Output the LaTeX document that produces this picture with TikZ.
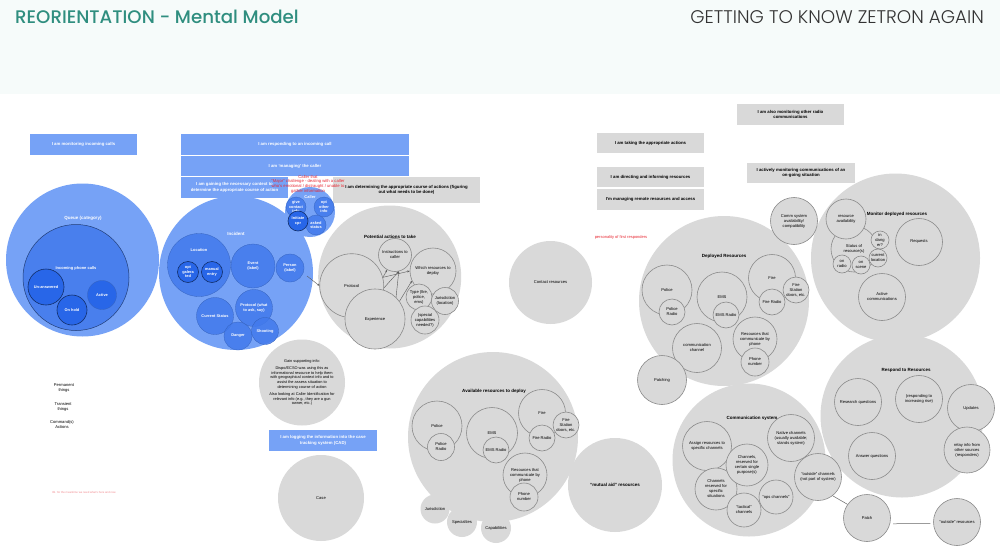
\documentclass[tikz,border=0pt]{standalone}
\usepackage{xcolor}
\usepackage{fontspec}
\setmainfont{Liberation Sans}
\newfontfamily\titlefont{Poppins Medium}
\newfontfamily\thinfont{Poppins Light}
\usetikzlibrary{positioning,arrows.meta}
\definecolor{headbg}{RGB}{246,251,250}
\definecolor{titleteal}{RGB}{47,142,127}
\definecolor{softgray}{RGB}{217,217,217}
\definecolor{ringgray}{RGB}{138,138,138}
\definecolor{softblue}{RGB}{118,162,246}
\definecolor{midblue}{RGB}{66,122,236}
\definecolor{deepblue}{RGB}{40,102,232}
\definecolor{alertred}{RGB}{232,40,50}
\tikzset{
    x=1pt, y=-1pt,
    plaintext/.style={font=\fontsize{4.1}{5}\selectfont, align=center, inner sep=0pt},
    hdg/.style={font=\bfseries\fontsize{4.5}{5.5}\selectfont, align=center, inner sep=0pt},
    bighalo/.style={circle, fill=softgray, inner sep=0pt, align=center, font=\fontsize{4.1}{5}\selectfont},
    ringed/.style={circle, fill=softgray, draw=ringgray, line width=0.6pt, inner sep=0pt, align=center, font=\fontsize{4.1}{5}\selectfont},
    bluehalo/.style={circle, fill=softblue, inner sep=0pt, align=center, text=white, font=\bfseries\fontsize{4.1}{5}\selectfont},
    bluering/.style={circle, fill=midblue, fill opacity=0.85, text opacity=1, draw=midblue!80!black, line width=0.3pt, inner sep=0pt, align=center, text=white, font=\bfseries\fontsize{3.9}{4.6}\selectfont},
    bluedeep/.style={circle, fill=deepblue, draw=deepblue!45!black, line width=0.6pt, inner sep=0pt, align=center, text=white, font=\bfseries\fontsize{3.9}{4.6}\selectfont},
    graybox/.style={fill=softgray, inner sep=0pt, align=center, font=\bfseries\fontsize{4.3}{5.6}\selectfont},
    bluebox/.style={fill=softblue, inner sep=0pt, align=center, text=white, font=\bfseries\fontsize{4.3}{5.6}\selectfont},
    arr/.style={-{Stealth[length=2.5pt,width=2pt]}, draw=black!65, line width=0.4pt},
    link/.style={draw=black!60, line width=0.5pt}
}
\begin{document}
\begin{tikzpicture}
\useasboundingbox (0,0) rectangle (1000,551);
\fill[white] (0,0) rectangle (1000,551);
\fill[headbg] (0,0) rectangle (1000,94);

% Header
\node[anchor=west, inner sep=0pt, text=titleteal, font=\titlefont\fontsize{18.2}{20}\selectfont] (title) at (15,17) {REORIENTATION - Mental Model};
\node[anchor=east, inner sep=0pt, text=black!80, font=\thinfont\fontsize{18.3}{20}\selectfont] (subtitle) at (984,17) {GETTING TO KNOW ZETRON AGAIN};

% Task boxes
\node[bluebox, minimum width=107pt, minimum height=21pt] (bxcalls) at (83.5,144.5) {I am monitoring incoming calls};
\node[bluebox, minimum width=228pt, minimum height=21pt] (bxrespond) at (295,144.5) {I am responding to an incoming call};
\node[bluebox, minimum width=228pt, minimum height=20pt] (bxmanage) at (295,166) {I am `managing' the caller};
\node[bluebox, minimum width=107pt, minimum height=21pt] (bxgain) at (234.5,187.5) {I am gaining the necessary context to\\determine the appropriate course of action};
\node[graybox, minimum width=147pt, minimum height=26pt] (bxdetermine) at (406.5,190) {I am determining the appropriate course of actions (figuring\\out what needs to be done)};
\node[bluebox, minimum width=108pt, minimum height=21pt] (bxlog) at (323,440.5) {I am logging the information into the case\\tracking system (CAD)};
\node[graybox, minimum width=107pt, minimum height=20pt] (bxtake) at (650.5,143) {I am taking the appropriate actions};
\node[graybox, minimum width=107pt, minimum height=20pt] (bxdirect) at (650.5,177) {I am directing and informing resources};
\node[graybox, minimum width=107pt, minimum height=21pt] (bxremote) at (650.5,199.5) {I'm managing remote resources and access};
\node[graybox, minimum width=107pt, minimum height=21pt] (bxother) at (790.5,114.5) {I am also monitoring other radio\\communications};
\node[graybox, minimum width=108pt, minimum height=20pt] (bxactive) at (801,173) {I actively monitoring communications of an\\on-going situation};

% Big circles
\foreach \nm/\x/\y/\dia/\label in {
    potential/389.7/277/143/{},
    gainc/302/382.5/86/{},
    casec/321/498/86/{Case},
    contact/550.5/282.5/83/{Contact resources},
    avail/493/437/170/{},
    jurisc/435/509/29/{Jurisdiction},
    specc/462/522/30/{Specialties},
    capac/496/528/30/{Capabilities},
    deployed/724/301/170/{},
    commsys/749/460/153/{},
    monitorc/895.5/258/169/{},
    respondc/902/416/163/{}
} {
    \node[bighalo, minimum size=\dia pt] (\nm) at (\x,\y) {\label};
}
\node[bighalo, minimum size=94pt, font=\bfseries\fontsize{4.5}{5}\selectfont] (mutualc) at (615,485) {``mutual aid'' resources};

% Blue circles
\node[bluehalo, minimum size=153pt] (queue) at (82.5,260) {};
\node[bluering, minimum size=106pt, draw=midblue!50!black, line width=0.5pt] (incoming) at (76,277.5) {};
\node[bluehalo, minimum size=154pt] (incident) at (236,273) {};
\node[bluehalo, minimum size=50pt] (caller) at (310,212) {};
\node[bluering, minimum size=29pt, fill=deepblue, fill opacity=1] (activec) at (102,295) {Active};
\node[bluering, minimum size=63pt] (location) at (199,265) {};
\node[bluering, minimum size=44pt] (eventc) at (253,266) {Event\\(label)};
\node[bluering, minimum size=28pt] (personc) at (290,268) {Person\\(label)};
\node[bluering, minimum size=37pt] (statusc) at (215,316) {Current Status};
\node[bluering, minimum size=37pt] (protocolc) at (254,308) {Protocol (what\\to ask, say)};
\node[bluering, minimum size=28pt] (dangerc) at (238,336) {Danger};
\node[bluering, minimum size=27pt] (shootc) at (265,331) {Shooting};
\node[bluering, minimum size=20pt] (givec) at (296,207) {give\\contact\\info};
\node[bluering, minimum size=20pt] (otherc) at (324,207) {opt\\other\\info};
\node[bluering, minimum size=20pt] (askedc) at (316,225) {asked\\status};
\node[bluedeep, minimum size=36pt] (unanswered) at (46,287) {Un-answered};
\node[bluedeep, minimum size=30pt] (onhold) at (72,310) {On hold};
\node[bluedeep, minimum size=21pt] (optgal) at (188,272) {opt\\galera\\ted};
\node[bluedeep, minimum size=21pt] (manualc) at (212,272) {manual\\entry};
\node[bluedeep, minimum size=20pt] (initc) at (298,221) {Initiate\\cpr};

% Ringed circles
\node[ringed, minimum size=64pt] (protocolg) at (351.7,285.7) {Protocol};
\node[ringed, minimum size=33pt] (instr) at (395,255) {Instructions to\\caller};
\node[ringed, minimum size=46pt] (which) at (433,271) {Which resources to\\deploy};
\node[ringed, minimum size=60pt] (experience) at (375,319) {Experience};
\node[ringed, minimum size=26pt] (typec) at (419,297) {Type (fire,\\police,\\ems)};
\node[ringed, minimum size=27pt] (jurloc) at (445,301) {Jurisdiction\\(location)};
\node[ringed, minimum size=28pt] (speccap) at (425,320) {(special\\capabilities\\needed?)};

\node[ringed, minimum size=50pt] (apolice) at (437,426) {Police};
\node[ringed, minimum size=27pt] (apradio) at (441,447) {Police\\Radio};
\node[ringed, minimum size=51pt] (aems) at (492,433) {EMS};
\node[ringed, minimum size=26pt] (aeradio) at (496,450) {EMS Radio};
\node[ringed, minimum size=47pt] (afire) at (542,413) {Fire};
\node[ringed, minimum size=26pt] (afradio) at (542,438) {Fire Radio};
\node[ringed, minimum size=26pt] (afdoor) at (566,425) {Fire\\Station\\doors, etc.};
\node[ringed, minimum size=44pt] (aphone) at (525,475) {Resources that\\communicate by\\phone};
\node[ringed, minimum size=28pt] (apnum) at (524,497) {Phone\\number};

\node[ringed, minimum size=50pt] (dpolice) at (667,290) {Police};
\node[ringed, minimum size=26pt] (dpradio) at (672,312) {Police\\Radio};
\node[ringed, minimum size=50pt] (dems) at (722,297) {EMS};
\node[ringed, minimum size=26pt] (deradio) at (726,315) {EMS Radio};
\node[ringed, minimum size=47pt] (dfire) at (772,278) {Fire};
\node[ringed, minimum size=26pt] (dfradio) at (772,302) {Fire Radio};
\node[ringed, minimum size=26pt] (dfdoor) at (796,290) {Fire\\Station\\doors, etc.};
\node[ringed, minimum size=44pt] (dphone) at (755,339) {Resources that\\communicate by\\phone};
\node[ringed, minimum size=28pt] (dpnum) at (755,362) {Phone\\number};
\node[ringed, minimum size=49pt] (dchannel) at (697,348) {communication\\channel};
\node[ringed, minimum size=49pt] (patching) at (662,380) {Patching};

\node[ringed, minimum size=49pt] (assign) at (707,446) {Assign resources to\\specific channels};
\node[ringed, minimum size=42pt] (situations) at (716,489) {Channels\\reserved for\\specific\\situations};
\node[ringed, minimum size=42pt] (reserved) at (747,465) {Channels,\\reserved for\\certain single\\purpose(s)};
\node[ringed, minimum size=34pt] (tactical) at (744,510) {``tactical''\\channels};
\node[ringed, minimum size=34pt] (opsc) at (776,497) {``ops channels''};

\node[ringed, minimum size=47pt] (compat) at (794,221) {Comm system\\availability/\\compatibility};
\node[ringed, minimum size=46pt] (statusres) at (854,249) {Status of\\resource(s)};
\node[ringed, minimum size=40pt] (availres) at (846,219) {resource\\availability};
\node[ringed, minimum size=18pt] (danger) at (880,240) {in\\dang\\er?};
\node[ringed, minimum size=18pt] (curloc) at (878,258) {current\\location};
\node[ringed, minimum size=18pt] (onradio) at (842,264) {on\\radio};
\node[ringed, minimum size=18pt] (onscene) at (861,265) {on\\scene};
\node[ringed, minimum size=47pt] (requests) at (919,242) {Requests};
\node[ringed, minimum size=47pt] (activecomm) at (882,297) {Active\\communications};

\node[ringed, minimum size=47pt] (research) at (858,402) {Research questions};
\node[ringed, minimum size=47pt] (increase) at (919,399) {(responding to\\increasing rise)};
\node[ringed, minimum size=47pt] (updates) at (971,408) {Updates};
\node[ringed, minimum size=46pt] (relay) at (967,450) {relay info from\\other sources\\(responders)};
\node[ringed, minimum size=47pt] (answer) at (872,456) {Answer questions};
\node[ringed, minimum size=47pt] (outchan) at (818,477) {``outside'' channels\\(not part of system)};
\node[ringed, minimum size=47pt] (patch) at (867,518) {Patch};
\node[ringed, minimum size=47pt] (outres) at (957,522) {``outside'' resources};

% Circle headings
\node[hdg, text=white] (queuelbl) at (83,218) {Queue (category)};
\node[plaintext, text=white, font=\bfseries\fontsize{4}{5}\selectfont] (incominglbl) at (76,268) {Incoming phone calls};
\node[hdg, text=white] (incidentlbl) at (236,234) {Incident};
\node[plaintext, text=white, font=\bfseries\fontsize{4}{5}\selectfont] (locationlbl) at (199,250) {Location};
\node[plaintext, text=white, font=\bfseries\fontsize{4}{5}\selectfont] (callerlbl) at (310,197) {Caller};
\node[hdg] (potentiallbl) at (390,237) {Potential actions to take};
\node[hdg] (availlbl) at (494,391) {Available resources to deploy};
\node[hdg] (deployedlbl) at (724,256) {Deployed Resources};
\node[hdg] (monitorlbl) at (897,214) {Monitor deployed resources};
\node[hdg] (respondlbl) at (906,370) {Respond to Resources};
\node[hdg] (commlbl) at (752,418) {Communication system};
\node[plaintext, font=\fontsize{3.9}{4.7}\selectfont] (gaintxt) at (302,382.5) {Gain supporting info:\\[2.5pt]Dispo/ECSO was using this as\\informational resource to help them\\with geographical context info and to\\assist the assess situation to\\determining course of action\\[2.5pt]Also looking at Caller Identification for\\relevant info (e.g., they are a gun\\owner, etc.)};

% This one sits over the heading
\node[ringed, minimum size=47pt] (native) at (791,438) {Native channels\\(usually available;\\stands system)};

% Connectors
\coordinate (incidentout) at (307,276);
\draw[arr] (incidentout) -- (protocolg.west);
\draw[arr] (protocolg.15) -- (instr.242);
\draw[arr] (protocolg.-4) -- (instr.283);
\draw[arr] (protocolg.15) -- (which.180);
\draw[arr] (experience.46) -- (instr.283);
\draw[arr] (experience.36) -- (which.205);
\draw[link] (outchan.-52) -- (patch.145);
\draw[link, shorten >=3pt, shorten <=3pt] (patch.-14) -- (outres.184);

% Legend and notes
\node[plaintext] (legperm) at (64,388) {Permanent\\things};
\node[plaintext] (legtrans) at (63,407) {Transient\\things};
\node[plaintext] (legcomm) at (62,425) {Command(s)\\Actions};
\node[plaintext, text=alertred!55, font=\fontsize{2.8}{3.4}\selectfont] (faintnote) at (84,492) {tbl. for the meantime we need what's here and now};
\node[plaintext, text=alertred, font=\fontsize{4}{5}\selectfont] (firstresp) at (621,237) {personality of first responders};
\node[plaintext, text=alertred, font=\fontsize{4.2}{4.7}\selectfont] (callernote) at (308,184) {Caller that\\``Major'' challenge - dealing with a caller\\who's emotional / distraught / unable to\\gather information};
\end{tikzpicture}
\end{document}
